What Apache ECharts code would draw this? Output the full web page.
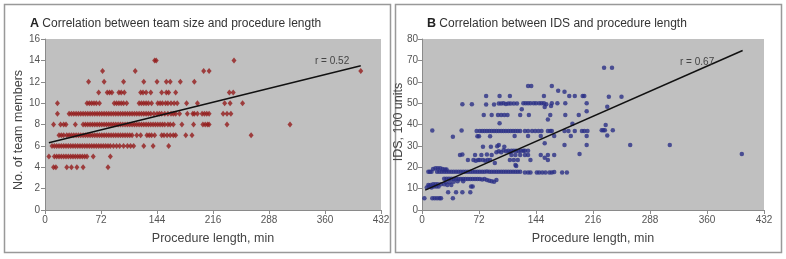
<!DOCTYPE html>
<html>
<head>
<meta charset="utf-8">
<script src="https://cdn.jsdelivr.net/npm/echarts@6/dist/echarts.min.js"></script>
<style>
html,body{margin:0;padding:0;background:#fff;}
#c{width:786px;height:259px;}
</style>
</head>
<body>
<div id="c"></div>
<script>
// ---- Panel A: team size vs procedure length (x values in minutes, grouped by team size) ----
const size14 = [141, 143, 243];
const size13 = [74, 116, 204, 211, 406];
const size12 = [56, 76, 101, 127, 144, 156, 161, 174, 192];
const size11 = [69, 80, 83, 86, 95, 98, 102, 123, 126, 130, 136, 150, 156, 159, 168, 237, 242];
const size10 = [16, 54, 57, 60, 63, 66, 70, 89, 92, 95, 98, 101, 105, 121, 124, 127, 130, 133, 137, 145, 148, 151, 155, 158, 162, 166, 170, 182, 196, 231, 238, 254];
const size9 = [16, 31, 34, 37, 40, 43, 46, 49, 52, 55, 58, 61, 64, 67, 70, 73, 76, 79, 82, 85, 88, 91, 94, 97, 100, 103, 106, 109, 112, 115, 118, 121, 124, 127, 130, 133, 136, 140, 144, 147, 150, 154, 158, 162, 165, 168, 173, 183, 190, 192, 196, 202, 205, 208, 211, 229, 234, 239];
const size8 = [11, 20, 24, 27, 39, 49, 52, 55, 58, 61, 64, 67, 70, 73, 76, 79, 82, 85, 88, 91, 94, 97, 100, 103, 106, 109, 112, 115, 118, 121, 124, 127, 130, 133, 136, 139, 142, 145, 148, 151, 154, 158, 161, 165, 176, 191, 203, 206, 209, 211, 234, 315];
const size7 = [18, 21, 24, 28, 31, 34, 37, 40, 43, 46, 49, 52, 55, 58, 61, 64, 67, 70, 73, 76, 79, 82, 85, 88, 91, 94, 97, 100, 103, 106, 109, 112, 118, 123, 131, 134, 137, 141, 150, 153, 157, 161, 165, 168, 181, 189, 265];
const size6 = [9, 12, 15, 18, 21, 24, 27, 30, 33, 36, 39, 42, 45, 48, 51, 54, 57, 60, 63, 66, 69, 72, 75, 78, 81, 84, 88, 92, 96, 101, 106, 110, 114, 127, 139, 159];
const size5 = [5, 12, 15, 18, 21, 24, 27, 30, 33, 36, 39, 42, 45, 48, 51, 54, 62, 84];
const size4 = [11, 14, 28, 34, 41, 49, 81];
const trendA = [[5, 6.3], [406, 13.5]];

// ---- Panel B: IDS (100 units) vs procedure length, [minutes, IDS] ----
const idsPoints = [
 [230,66.6],[240,66.6],
 [134,58],[138,58],[164,58],[172,55.8],[180,55.3],
 [81,53.3],[98,53.3],[111,53.3],[154,53.3],[186,53.3],[193,53.3],[203,53.3],[205,53.3],[236,53],[252,53],
 [51,49.5],[63,49.5],[81,49.4],[91,49.4],[97,49.8],[100,49.8],[103,50],[106,49.6],[109,49.8],[112,49.8],[116,49.8],[120,49.8],[128,49.9],[131,49.9],[134,49.9],[137,49.9],[141,49.9],[144,49.9],[148,49.9],[151,49.9],[154,49.9],[157,49.5],[164,49.9],[171,49.9],[181,49.9],[208,49.9],
 [155,48.2],[163,48.6],[234,48.3],[126,47.1],[208,46.2],
 [78,44.4],[88,44.4],[96,44.4],[100,44.4],[104,44.4],[108,44.4],[124,44.4],[135,44.4],[162,44.4],[181,44.4],[198,44.4],
 [159,42.3],[98,40.6],[190,40.3],[232,39.8],
 [13,37.2],[50,37.2],[69,37],[73,37],[76,37],[79,37],[82,37],[85,37],[88,37],[91,37],[94,37],[97,37],[100,37],[103,37],[106,37],[109,37],[112,37],[115,37],[118,37],[121,37],[124,37],[130,37],[134,37],[139,37],[143,37],[147,37],[151,37],[159,37],[162,37],[164,37],[180,37],[185,37],[193,37],[202,37],[205,37],[209,37],[227,37.3],[229,37.3],[231,37.3],[241,37.3],
 [39,34.3],[70,34.5],[72,34.5],[86,34.5],[117,34.6],[134,34.6],[150,34.6],[167,34.6],[188,34.6],[208,34.6],[234,34.8],
 [77,29.6],[87,29.6],[95,29.8],[97,30.4],[104,29.6],[155,31.2],[180,30.4],[208,30.4],[263,30.4],[313,30.4],
 [94,27],[97,27.5],[100,27],[103,28],[106,27.5],[109,27.7],[111,27],[113,27.7],[116,27.7],[119,27.7],[122,27.5],[125,27.7],[128,27.7],[130,27.7],[134,27.7],
 [48,25.7],[51,26],[67,25.7],[75,25.7],[82,26],[88,25.7],[113,25.7],[118,25.7],[124,25.7],[130,25.7],[134,25.7],[150,25.7],[159,25.7],[167,25.7],[199,26.2],[404,26.2],
 [58,23.4],[65,23.4],[68,23],[71,23.4],[73,23.4],[77,23.4],[80,23],[83,23.4],[86,23.4],[92,22],[111,23.4],[116,23.4],[121,23.4],[137,23.4],[159,23.4],[155,24.5],
 [118,21],[119,20.6],
 [8,17.9],[10,17.9],[12,17.9],[19,17.9],[22,17.9],[25,17.9],[28,17.9],[31,17.9],[34,17.9],[37,17.9],[40,17.9],[43,17.9],[46,17.9],[49,17.9],[52,17.9],[55,17.9],[58,17.9],[61,17.9],[64,17.9],[67,17.9],[70,17.9],[73,17.9],[76,17.9],[79,17.9],[82,18],[85,17.9],[88,17.9],[91,17.9],[94,17.9],[97,17.9],[100,17.9],[103,17.9],[106,17.9],[109,17.9],[112,17.9],[115,17.9],[118,17.9],[121,17.9],[124,17.9],[130,17.6],[134,17.6],[137,17.6],[145,17.6],[148,17.6],[152,17.6],[156,17.6],[161,17.6],[164,17.6],[167,17.8],[177,17.6],[183,17.6],
 [14,19.2],[17,19.5],[20,19.5],[23,19.5],[26,19.2],[29,19],[31,19],
 [28,14.6],[31,14.6],[34,14.6],[37,14.6],[40,14.6],[43,14.6],[46,14.5],[49,14.5],[52,14.5],[55,14.5],[58,14.5],[61,14.5],[64,14.5],[67,14.5],[70,14.5],[73,14.5],[76,14.3],[79,14.5],[82,14],[85,13.7],[88,13.5],[91,13.2],[94,14],
 [30,13],[35,13],[40,13.2],[45,13.5],[52,13.5],
 [8,11.7],[11,11.7],[14,12],[17,12],[20,12],[24,12],[28,12],[32,11.7],[37,11.7],
 [6,10.5],[9,11],[12,10.5],[15,11],[18,11],[21,11],[62,11],[64,11],
 [33,8.3],[43,8.3],[51,8.3],[61,8.3],
 [3,5.5],[13,5.5],[16,5.5],[19,5.5],[22,5.5],[24,5.5],[39,5.5]
];
const trendB = [[4, 9.3], [405, 74.6]];

const teamRows = [[4,size4],[5,size5],[6,size6],[7,size7],[8,size8],[9,size9],[10,size10],[11,size11],[12,size12],[13,size13],[14,size14]];
const teamPoints = [];
teamRows.forEach(([n, xs]) => xs.forEach(x => teamPoints.push([x, n])));

const font = 'Liberation Sans, Arial, Helvetica, sans-serif';
const axisLine = {show: true, lineStyle: {color: '#8a8a8a', width: 1}};
const axisTick = {show: true, length: 4, lineStyle: {color: '#8a8a8a'}};
const tickLabel = {color: '#555', fontSize: 10, fontFamily: font};
const nameStyle = {color: '#444', fontSize: 12.5, fontFamily: font};

function xAxis(gi) {
  return {
    gridIndex: gi, type: 'value', min: 0, max: 432, interval: 72,
    name: 'Procedure length, min', nameLocation: 'middle', nameGap: 22, nameTextStyle: nameStyle,
    axisLine, axisTick, axisLabel: Object.assign({margin: 5}, tickLabel), splitLine: {show: false}
  };
}

const chart = echarts.init(document.getElementById('c'), null, {renderer: 'canvas'});
chart.setOption({
  backgroundColor: '#fff',
  animation: false,
  grid: [
    {left: 45, top: 39, width: 336, height: 171, show: true, backgroundColor: '#c0c0c0', borderWidth: 0},
    {left: 422, top: 39, width: 342, height: 171, show: true, backgroundColor: '#c0c0c0', borderWidth: 0}
  ],
  xAxis: [xAxis(0), xAxis(1)],
  yAxis: [
    {gridIndex: 0, type: 'value', min: 0, max: 16, interval: 2,
     axisLine, axisTick, axisLabel: Object.assign({margin: 5}, tickLabel), splitLine: {show: false}},
    {gridIndex: 1, type: 'value', min: 0, max: 80, interval: 10,
     axisLine, axisTick, axisLabel: Object.assign({margin: 4}, tickLabel), splitLine: {show: false}}
  ],
  series: [
    {type: 'scatter', xAxisIndex: 0, yAxisIndex: 0, data: teamPoints, symbol: 'diamond', symbolSize: [5, 6],
     itemStyle: {color: '#931c1c'}},
    {type: 'line', xAxisIndex: 0, yAxisIndex: 0, data: trendA, symbol: 'none',
     lineStyle: {color: '#111', width: 1.5}},
    {type: 'scatter', xAxisIndex: 1, yAxisIndex: 1, data: idsPoints, symbol: 'circle', symbolSize: 4.5,
     itemStyle: {color: '#2a2f86'}},
    {type: 'line', xAxisIndex: 1, yAxisIndex: 1, data: trendB, symbol: 'none',
     lineStyle: {color: '#111', width: 1.5}}
  ],
  graphic: [
    {type: 'rect', shape: {x: 4.5, y: 4.5, width: 386, height: 248}, style: {fill: 'none', stroke: '#999', lineWidth: 1.5}, z: 100},
    {type: 'rect', shape: {x: 395.5, y: 4.5, width: 386, height: 248}, style: {fill: 'none', stroke: '#999', lineWidth: 1.5}, z: 100},
    {type: 'text', left: 30, top: 17, z: 100, style: {
      text: '{b|A} Correlation between team size and procedure length',
      rich: {b: {fontWeight: 'bold', fontSize: 12.5, fontFamily: font, fill: '#222'}},
      fontSize: 12, fontFamily: font, fill: '#333'}},
    {type: 'text', left: 427, top: 17, z: 100, style: {
      text: '{b|B} Correlation between IDS and procedure length',
      rich: {b: {fontWeight: 'bold', fontSize: 12.5, fontFamily: font, fill: '#222'}},
      fontSize: 12, fontFamily: font, fill: '#333'}},
    {type: 'text', x: 19, y: 130, rotation: Math.PI / 2, z: 100, style: {
      text: 'No. of team members', fontSize: 12.5, fontFamily: font, fill: '#444', align: 'center', verticalAlign: 'middle'}},
    {type: 'text', x: 399, y: 122, rotation: Math.PI / 2, z: 100, style: {
      text: 'IDS, 100 units', fontSize: 12.5, fontFamily: font, fill: '#444', align: 'center', verticalAlign: 'middle'}},
    {type: 'text', left: 315, top: 56, z: 100, style: {text: 'r = 0.52', fontSize: 10, fontFamily: font, fill: '#444'}},
    {type: 'text', left: 680, top: 57, z: 100, style: {text: 'r = 0.67', fontSize: 10, fontFamily: font, fill: '#444'}}
  ]
});
</script>
</body>
</html>
